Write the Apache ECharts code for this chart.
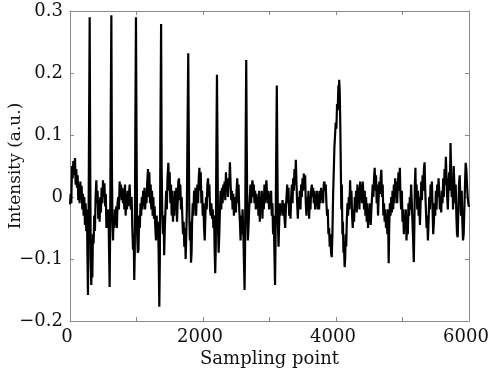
<!DOCTYPE html>
<html>
<head>
<meta charset="utf-8">
<script src="https://cdn.jsdelivr.net/npm/echarts@6/dist/echarts.min.js"></script>
<style>
html,body{margin:0;padding:0;background:#fff;}
#chart{width:491px;height:377px;}
</style>
</head>
<body>
<div id="chart"></div>
<script>
// [sampling point, intensity]
const signal = [
[0,-0.012],[10,0.005],[20,-0.01],[30,0.05],[40,0.03],[50,0.058],[60,0.035],[75,0.063],[85,0.02],[95,0.045],
[105,0.015],[115,0.035],[125,-0.005],[135,0.02],[145,-0.01],[155,0.025],[165,0.0],[175,0.018],[185,-0.02],[195,0.005],
[205,-0.03],[215,0.0],[225,-0.045],[235,-0.01],[245,-0.055],[255,-0.02],[262,-0.09],[270,-0.158],[278,-0.06],[286,0.1],
[296,0.29],[304,0.05],[312,-0.1],[320,-0.142],[328,-0.09],[336,-0.13],[345,-0.06],[355,-0.075],[365,-0.03],[375,-0.055],
[385,0.0],[396,0.027],[405,-0.01],[415,0.01],[425,-0.035],[435,-0.005],[445,-0.04],[455,0.0],[465,-0.025],[475,0.015],
[485,-0.01],[496,0.027],[506,0.0],[518,0.022],[528,-0.015],[538,0.005],[548,-0.05],[558,-0.02],[568,-0.045],[578,-0.02],
[588,-0.09],[596,-0.145],[604,-0.05],[612,0.12],[622,0.293],[630,0.05],[638,-0.04],[647,-0.07],[656,-0.03],[665,-0.05],
[675,-0.02],[685,-0.045],[695,-0.015],[705,-0.05],[715,-0.01],[725,0.0],[735,-0.02],[747,0.025],[757,0.0],[767,0.02],
[777,-0.005],[787,0.015],[797,-0.01],[807,0.012],[817,-0.02],[827,0.02],[837,-0.03],[847,0.005],[857,-0.02],[867,0.01],
[877,-0.015],[887,0.005],[897,0.02],[907,-0.01],[917,-0.02],[927,0.0],[937,-0.05],[948,-0.085],[958,-0.06],[966,-0.134],
[974,-0.09],[982,0.1],[992,0.29],[1000,0.1],[1010,-0.06],[1020,-0.09],[1030,-0.085],[1040,-0.03],[1050,-0.05],[1060,-0.01],
[1070,-0.03],[1080,0.0],[1090,-0.02],[1100,0.01],[1110,-0.015],[1120,0.015],[1130,-0.02],[1140,0.005],[1150,-0.01],[1160,0.02],
[1173,0.045],[1183,0.0],[1193,0.04],[1203,-0.01],[1213,0.02],[1223,-0.02],[1233,0.01],[1243,-0.03],[1253,0.0],[1263,-0.035],
[1273,-0.015],[1283,-0.05],[1293,-0.07],[1303,-0.03],[1313,-0.06],[1323,-0.04],[1333,-0.09],[1343,-0.177],[1351,-0.1],[1360,0.1],
[1370,0.279],[1378,0.05],[1388,-0.03],[1398,-0.06],[1408,-0.03],[1416,-0.094],[1426,-0.05],[1436,-0.02],[1446,0.01],[1456,-0.02],
[1466,0.03],[1479,0.055],[1489,0.01],[1499,0.04],[1509,-0.01],[1519,0.02],[1529,-0.03],[1539,0.01],[1549,-0.04],[1559,0.0],
[1569,-0.03],[1579,0.01],[1589,-0.02],[1599,0.015],[1609,-0.04],[1619,-0.01],[1629,0.025],[1639,0.03],[1649,-0.005],[1659,0.02],
[1669,-0.02],[1679,0.0],[1689,-0.03],[1699,-0.06],[1709,-0.04],[1719,-0.08],[1729,-0.05],[1739,-0.1],[1749,-0.06],[1757,-0.02],
[1765,0.08],[1778,0.232],[1786,0.1],[1794,-0.03],[1803,-0.07],[1812,-0.04],[1820,-0.106],[1828,-0.09],[1836,-0.04],[1846,-0.01],
[1856,-0.03],[1866,0.01],[1876,-0.02],[1886,0.015],[1896,-0.03],[1906,0.0],[1916,0.02],[1926,-0.01],[1936,0.03],[1946,0.047],
[1956,0.01],[1966,0.04],[1976,-0.01],[1986,0.01],[1996,-0.03],[2006,-0.01],[2016,-0.05],[2026,-0.07],[2036,-0.03],[2046,0.0],
[2056,-0.02],[2066,0.02],[2076,0.03],[2086,0.0],[2096,0.02],[2106,-0.02],[2116,-0.03],[2126,-0.01],[2136,-0.035],[2146,-0.02],
[2156,-0.05],[2166,-0.03],[2176,-0.09],[2184,-0.123],[2192,-0.08],[2200,0.06],[2210,0.197],[2218,0.08],[2226,-0.05],[2235,-0.09],
[2245,-0.06],[2255,-0.02],[2265,0.01],[2275,-0.02],[2285,0.015],[2295,-0.01],[2305,0.02],[2315,0.0],[2325,0.025],[2335,-0.005],
[2345,0.04],[2355,0.01],[2365,0.03],[2375,0.0],[2385,0.03],[2395,0.02],[2405,0.056],[2415,0.02],[2425,-0.005],[2435,0.01],
[2445,-0.02],[2455,0.005],[2465,-0.03],[2475,-0.01],[2485,0.0],[2495,-0.025],[2505,0.01],[2515,0.03],[2525,-0.01],[2535,0.02],
[2545,-0.02],[2555,-0.04],[2565,-0.07],[2575,-0.03],[2585,-0.06],[2595,-0.02],[2605,-0.05],[2615,-0.1],[2625,-0.15],[2633,-0.08],
[2641,0.08],[2650,0.221],[2658,0.08],[2666,-0.03],[2675,-0.07],[2684,-0.05],[2694,-0.02],[2704,0.0],[2714,0.02],[2724,-0.01],
[2734,0.015],[2744,0.027],[2754,0.0],[2764,0.02],[2774,-0.01],[2784,0.01],[2794,-0.02],[2804,0.005],[2814,-0.015],[2824,0.0],
[2834,-0.03],[2844,0.01],[2854,-0.04],[2864,0.0],[2874,-0.02],[2884,0.01],[2894,-0.035],[2904,0.005],[2914,-0.02],[2924,0.02],
[2934,-0.01],[2944,0.015],[2954,0.027],[2964,0.0],[2974,-0.01],[2984,0.01],[2994,-0.02],[3004,0.005],[3014,-0.01],[3024,0.01],
[3034,-0.03],[3044,-0.01],[3054,-0.06],[3064,-0.03],[3074,-0.09],[3083,-0.142],[3091,-0.07],[3100,0.06],[3110,0.18],[3118,0.06],
[3126,-0.04],[3136,-0.08],[3146,-0.04],[3156,-0.01],[3166,-0.03],[3176,-0.01],[3186,-0.025],[3196,-0.005],[3206,-0.03],[3216,-0.01],
[3226,-0.035],[3236,-0.05],[3246,-0.02],[3256,0.0],[3266,0.02],[3276,-0.01],[3286,0.015],[3296,-0.03],[3306,-0.01],[3316,-0.035],
[3326,0.0],[3336,0.02],[3346,-0.01],[3356,0.03],[3366,0.01],[3376,0.045],[3386,0.02],[3396,0.06],[3406,0.02],[3416,-0.01],
[3426,-0.035],[3436,0.0],[3446,-0.02],[3456,0.01],[3466,-0.02],[3476,0.02],[3486,0.0],[3496,0.03],[3506,0.01],[3516,0.038],
[3526,0.015],[3536,0.035],[3546,-0.01],[3556,-0.03],[3566,0.0],[3576,-0.02],[3586,0.01],[3596,-0.035],[3606,0.0],[3616,-0.02],
[3626,0.01],[3636,0.02],[3646,0.0],[3656,0.015],[3666,-0.01],[3676,0.01],[3686,-0.02],[3696,0.005],[3706,-0.015],[3716,0.01],
[3726,-0.02],[3736,0.005],[3746,-0.02],[3756,0.01],[3766,-0.01],[3776,0.015],[3786,-0.005],[3796,0.01],[3806,-0.01],[3816,0.02],
[3826,0.025],[3836,0.01],[3846,0.02],[3856,-0.01],[3866,-0.03],[3876,-0.02],[3886,-0.06],[3896,-0.05],[3906,-0.08],[3916,-0.06],
[3926,-0.09],[3936,-0.097],[3946,-0.06],[3956,0.0],[3966,0.04],[3976,0.08],[3986,0.1],[3996,0.12],[4006,0.11],[4016,0.15],
[4026,0.14],[4036,0.18],[4042,0.165],[4048,0.189],[4056,0.17],[4064,0.12],[4072,0.05],[4080,-0.02],[4088,0.02],[4096,-0.06],
[4104,-0.04],[4112,-0.09],[4120,-0.08],[4130,-0.113],[4138,-0.1],[4146,-0.06],[4154,-0.08],[4162,-0.04],[4172,-0.01],[4182,-0.03],
[4192,0.0],[4202,-0.02],[4212,0.027],[4222,-0.01],[4232,0.01],[4242,-0.03],[4252,-0.05],[4262,-0.02],[4272,-0.04],[4282,0.0],
[4292,-0.02],[4302,0.01],[4312,-0.025],[4322,0.02],[4332,-0.01],[4342,0.015],[4352,-0.02],[4362,0.025],[4372,-0.005],[4382,0.02],
[4392,-0.01],[4402,0.025],[4412,0.005],[4422,-0.02],[4432,0.01],[4442,-0.03],[4452,0.0],[4462,-0.04],[4472,-0.01],[4482,-0.05],
[4492,-0.02],[4502,-0.04],[4512,-0.01],[4522,-0.045],[4532,-0.02],[4542,0.0],[4552,0.02],[4562,0.0],[4572,0.03],[4582,0.047],
[4592,0.01],[4602,0.035],[4612,-0.01],[4622,0.02],[4632,-0.03],[4642,0.0],[4652,0.025],[4662,0.005],[4672,0.03],[4682,0.044],
[4692,0.0],[4702,0.02],[4712,-0.03],[4722,-0.01],[4732,-0.04],[4742,-0.02],[4752,-0.05],[4762,-0.03],[4772,-0.06],[4782,-0.02],
[4792,-0.107],[4800,-0.05],[4810,-0.01],[4820,-0.03],[4830,0.0],[4840,-0.025],[4850,0.01],[4860,-0.02],[4870,0.02],[4880,-0.01],
[4890,0.03],[4900,0.0],[4910,0.025],[4920,-0.01],[4930,0.02],[4940,0.04],[4950,0.01],[4960,0.047],[4970,0.0],[4980,-0.02],
[4990,0.01],[5000,-0.04],[5010,-0.02],[5020,-0.06],[5030,-0.03],[5040,-0.05],[5050,-0.02],[5060,-0.07],[5070,-0.04],[5080,-0.06],
[5090,-0.01],[5100,-0.03],[5110,0.0],[5120,-0.02],[5130,0.02],[5140,-0.01],[5150,-0.04],[5160,-0.07],[5170,-0.105],[5178,-0.05],
[5186,0.02],[5194,0.047],[5202,0.0],[5212,0.02],[5222,-0.02],[5232,0.01],[5242,-0.03],[5252,0.0],[5262,-0.045],[5272,-0.01],
[5282,0.025],[5292,-0.005],[5302,0.035],[5312,0.01],[5322,0.045],[5332,0.056],[5342,0.01],[5352,-0.02],[5362,-0.05],[5372,-0.03],
[5382,-0.07],[5392,-0.04],[5402,0.0],[5412,-0.02],[5422,0.02],[5432,0.0],[5442,0.025],[5452,-0.02],[5462,-0.06],[5472,-0.04],
[5482,-0.01],[5492,-0.03],[5502,0.01],[5512,-0.02],[5522,0.02],[5532,0.0],[5542,0.03],[5552,0.01],[5562,-0.02],[5572,0.0],
[5582,-0.025],[5592,0.01],[5602,-0.01],[5612,0.03],[5622,0.0],[5632,0.045],[5642,0.02],[5652,0.065],[5662,0.03],[5672,0.0],
[5682,-0.02],[5692,0.02],[5702,0.04],[5712,0.01],[5722,0.087],[5730,0.05],[5740,0.0],[5750,0.03],[5760,-0.02],[5770,0.05],
[5780,0.02],[5790,-0.01],[5800,0.02],[5810,-0.03],[5820,-0.06],[5830,-0.065],[5840,-0.02],[5850,0.02],[5860,0.035],[5870,0.0],
[5880,-0.03],[5890,0.01],[5900,-0.04],[5910,-0.07],[5920,-0.06],[5930,-0.02],[5940,0.02],[5950,0.055],[5960,0.045],[5970,0.02],
[5980,0.0],[5990,-0.01],[6000,-0.016]
];
const xRange = [0, 6000];
const xTickStep = 1000;
const xLabelStep = 2000;
const yRange = [-0.2, 0.3];
const yTickStep = 0.1;
const xTitle = 'Sampling point';
const yTitle = 'Intensity (a.u.)';

const FONT = 'DejaVu Serif';
const frameColor = '#8a8a8a';
const textColor = '#111';

function fmtY(v) {
  const r = Math.round(v * 10) / 10;
  if (r === 0) return '0';
  return String(r).replace('-', '\u2212');
}
function fmtX(v) {
  const r = Math.round(v);
  return r % xLabelStep === 0 ? String(r) : '';
}

const baseAxis = {
  axisLine: { show: true, onZero: false, lineStyle: { color: frameColor, width: 1 } },
  axisTick: { show: true, inside: true, length: 4, lineStyle: { color: frameColor } },
  splitLine: { show: false }
};

const chart = echarts.init(document.getElementById('chart'), null, { renderer: 'canvas' });
chart.setOption({
  animation: false,
  backgroundColor: '#fff',
  grid: { left: 70, right: 22, top: 11, bottom: 56, containLabel: false, outerBoundsMode: 'none' },
  xAxis: [
    Object.assign({}, baseAxis, {
      type: 'value', position: 'bottom', min: xRange[0], max: xRange[1], interval: xTickStep,
      name: xTitle, nameLocation: 'middle', nameGap: 29, nameMoveOverlap: false,
      nameTextStyle: { fontFamily: FONT, fontSize: 18, color: textColor },
      axisLabel: { formatter: fmtX, fontFamily: FONT, fontSize: 18, color: textColor, margin: 7, padding: [0, 6, 0, 0] }
    }),
    Object.assign({}, baseAxis, {
      type: 'value', position: 'top', min: xRange[0], max: xRange[1], interval: xTickStep,
      axisLabel: { show: false }
    })
  ],
  yAxis: [
    Object.assign({}, baseAxis, {
      type: 'value', position: 'left', min: yRange[0], max: yRange[1], interval: yTickStep,
      name: yTitle, nameLocation: 'middle', nameGap: 46, nameRotate: 90, nameMoveOverlap: false,
      nameTextStyle: { fontFamily: FONT, fontSize: 17, color: textColor },
      axisLabel: { formatter: fmtY, fontFamily: FONT, fontSize: 18, color: textColor, margin: 7 }
    }),
    Object.assign({}, baseAxis, {
      type: 'value', position: 'right', min: yRange[0], max: yRange[1], interval: yTickStep,
      axisLabel: { show: false }
    })
  ],
  series: [{
    type: 'line',
    xAxisIndex: 0,
    yAxisIndex: 0,
    data: signal,
    showSymbol: false,
    symbol: 'none',
    lineStyle: { color: '#000', width: 2.2 },
    silent: true
  }]
});
</script>
</body>
</html>
